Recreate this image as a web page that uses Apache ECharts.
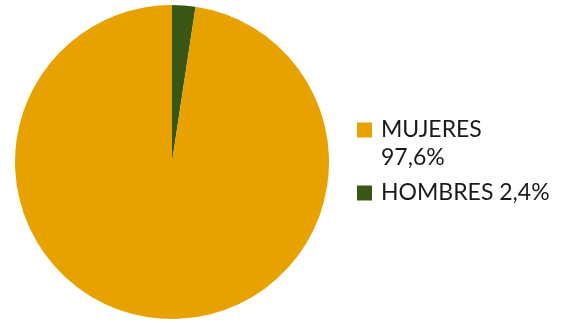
<!DOCTYPE html>
<html lang="es">
<head>
    <meta charset="UTF-8">
    <title>Mujeres / Hombres</title>
    <script src="https://cdn.jsdelivr.net/npm/echarts@6/dist/echarts.min.js"></script>
    <style>
        html, body { margin: 0; padding: 0; background: #fff; }
        #main { width: 573px; height: 323px; }
    </style>
</head>
<body>
<div id="main"></div>
<script type="text/javascript">
    // datos
    var categorias = ['HOMBRES', 'MUJERES'];
    var valores = [2.4, 97.6];
    var colores = ['#3a5614', '#e8a200'];

    var myChart = echarts.init(document.getElementById('main'));

    var datos = categorias.map(function (c, i) {
        return { name: c, value: valores[i], itemStyle: { color: colores[i] } };
    });

    function etiqueta(name) {
        var i = categorias.indexOf(name);
        var v = String(valores[i]).replace('.', ',') + '%';
        // MUJERES en dos lineas; la linea vacia de arriba deja el cuadrado a la altura de la primera
        return name === 'MUJERES' ? '\u00a0\n' + name + '\n' + v : name + ' ' + v;
    }

    var texto = {
        fontFamily: 'Lato',
        fontSize: 23,
        lineHeight: 28,
        color: '#1a1a1a',
        padding: [0, 0, 0, 4]
    };

    var option = {
        legend: [
            {
                data: ['MUJERES'],
                orient: 'vertical',
                left: 357,
                top: 88,
                padding: 0,
                icon: 'rect',
                itemWidth: 15,
                itemHeight: 15,
                selectedMode: false,
                formatter: etiqueta,
                textStyle: texto
            },
            {
                data: ['HOMBRES'],
                orient: 'vertical',
                left: 357,
                top: 179,
                padding: 0,
                icon: 'rect',
                itemWidth: 15,
                itemHeight: 15,
                selectedMode: false,
                formatter: etiqueta,
                textStyle: texto
            }
        ],
        series: [
            {
                type: 'pie',
                center: [172, 162],
                radius: 157,
                startAngle: 90,
                clockwise: true,
                label: { show: false },
                labelLine: { show: false },
                emphasis: { disabled: true },
                data: datos
            }
        ]
    };
    myChart.setOption(option);
</script>
</body>
</html>
